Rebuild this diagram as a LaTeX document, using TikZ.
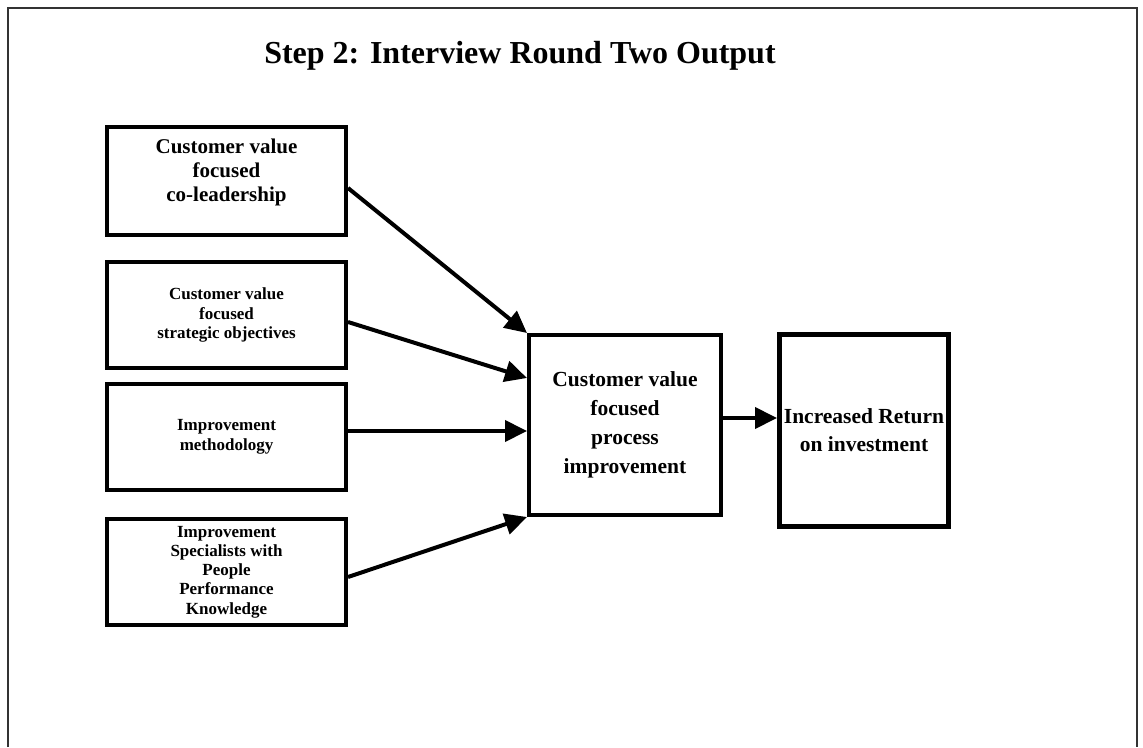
\documentclass[tikz,border=0pt]{standalone}
\usepackage{fontspec}
\setmainfont{Liberation Serif}
\usetikzlibrary{arrows.meta}
\begin{document}
\begin{tikzpicture}[x=1pt,y=-1pt,
  inbox/.style={draw, line width=4pt, minimum width=239pt, minimum height=106pt, inner sep=0pt, align=center},
  arr/.style={line width=4pt, -{Triangle[length=22pt,width=21pt]}},
  smalltxt/.style={font=\fontsize{17}{19.3}\selectfont\bfseries},
]
\useasboundingbox (0,0) rectangle (1143,747);
% open frame
\draw[black!80, line width=1.5pt] (8,747) -- (8,8) -- (1137,8) -- (1137,747);

\node[font=\fontsize{32}{38}\selectfont\bfseries] (title) at (520,56) {Step 2: Interview Round Two Output};

% input boxes
\node[inbox, minimum height=108pt] (b1) at (226.5,181) {};
\node[font=\fontsize{21}{24}\selectfont\bfseries, align=center] (t1) at ([yshift=9]b1.center) {Customer value\\focused\\co-leadership};
\node[inbox, smalltxt] (b2) at (226.5,315) {Customer value\\focused\\strategic objectives};
\node[inbox, smalltxt, font=\fontsize{17}{20}\selectfont\bfseries] (b3) at (226.5,437) {Improvement\\methodology};
\node[inbox, smalltxt] (b4) at (226.5,572) {Improvement\\Specialists with\\People\\Performance\\Knowledge};

% central box and outcome
\node[draw, line width=4pt, minimum width=192pt, minimum height=180pt, inner sep=0pt, align=center,
      font=\fontsize{21.5}{29}\selectfont\bfseries] (c) at (625,425) {Customer value\\focused\\process\\improvement};
\node[draw, line width=5pt, minimum width=169pt, minimum height=192pt, inner sep=0pt, align=center,
      font=\fontsize{21.5}{28}\selectfont\bfseries] (r) at (864,430.5) {Increased Return\\on investment};

% connectors
\draw[arr] ([yshift=-7]b1.east) -- (c.north west);
\draw[arr] ([yshift=-7]b2.east) -- ([yshift=-45]c.north west);
\draw[arr] ([yshift=6]b3.east) -- ([yshift=6]b3.east -| c.west);
\draw[arr] ([yshift=-5]b4.east) -- (c.south west);
\draw[arr] ([yshift=7]c.east) -- ([yshift=7]c.east -| r.west);
\end{tikzpicture}
\end{document}
